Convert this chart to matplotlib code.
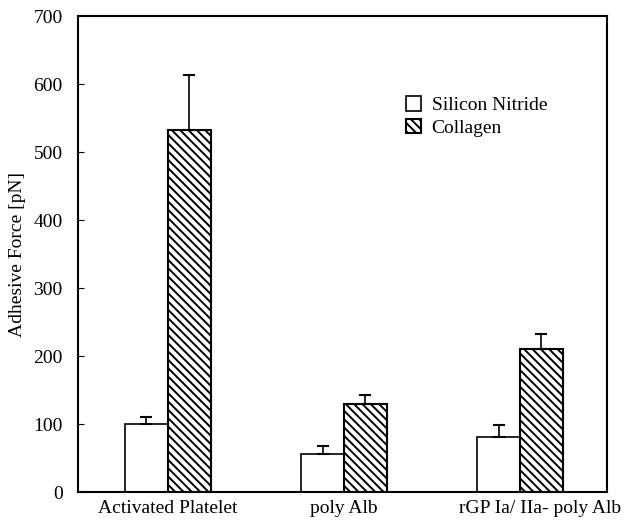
import numpy as np
import matplotlib
matplotlib.use('Agg')
import matplotlib.pyplot as plt
from matplotlib.transforms import ScaledTranslation

plt.rcParams['font.family'] = ['Liberation Serif', 'DejaVu Serif']
plt.rcParams['hatch.linewidth'] = 1.4

# Data
groups = ['Activated Platelet', 'poly Alb', 'rGP Ia/ IIa- poly Alb']
silicon = [100, 56, 81]
silicon_err = [11, 11, 17]
collagen = [532, 129, 210]
collagen_err = [82, 14, 23]

fig = plt.figure(figsize=(6.26, 5.2), dpi=100)
ax = fig.add_axes([0.1246, 0.0538, 0.845, 0.915])

x = np.arange(len(groups))
w = 0.244

ax.bar(x - w / 2, silicon, w, color='white', edgecolor='black', linewidth=1.2,
       label='Silicon Nitride')
ax.errorbar(x - w / 2, silicon, yerr=[np.zeros(3), silicon_err], fmt='none',
            ecolor='black', elinewidth=1.2, capsize=4, capthick=1.5)
ax.bar(x + w / 2, collagen, w, color='white', edgecolor='black', linewidth=1.5,
       hatch='\\\\\\\\', label='Collagen')
ax.errorbar(x + w / 2, collagen, yerr=[np.zeros(3), collagen_err], fmt='none',
            ecolor='black', elinewidth=1.2, capsize=4, capthick=1.5)

ax.set_xlim(-0.511, 2.494)
ax.set_ylim(0, 700)
ax.set_yticks(np.arange(0, 701, 100))
ax.set_xticks(x)
ax.set_xticklabels(groups, fontsize=14)
ax.tick_params(axis='x', length=0, pad=6)
ax.tick_params(axis='y', direction='in', length=4, labelsize=14, pad=11)
ax.set_ylabel('Adhesive Force [pN]', fontsize=14, labelpad=5)
for s in ax.spines.values():
    s.set_linewidth(1.5)

# last label sits a bit right of its group in the original
lab = ax.get_xticklabels()[2]
lab.set_transform(lab.get_transform() + ScaledTranslation(0.2, 0, fig.dpi_scale_trans))

ax.legend(loc='upper left', bbox_to_anchor=(0.595, 0.86), frameon=False,
          fontsize=14, handlelength=0.75, handleheight=0.75, handletextpad=0.55,
          labelspacing=0.25, borderpad=0.2)

fig.savefig('out.png', dpi=100)
